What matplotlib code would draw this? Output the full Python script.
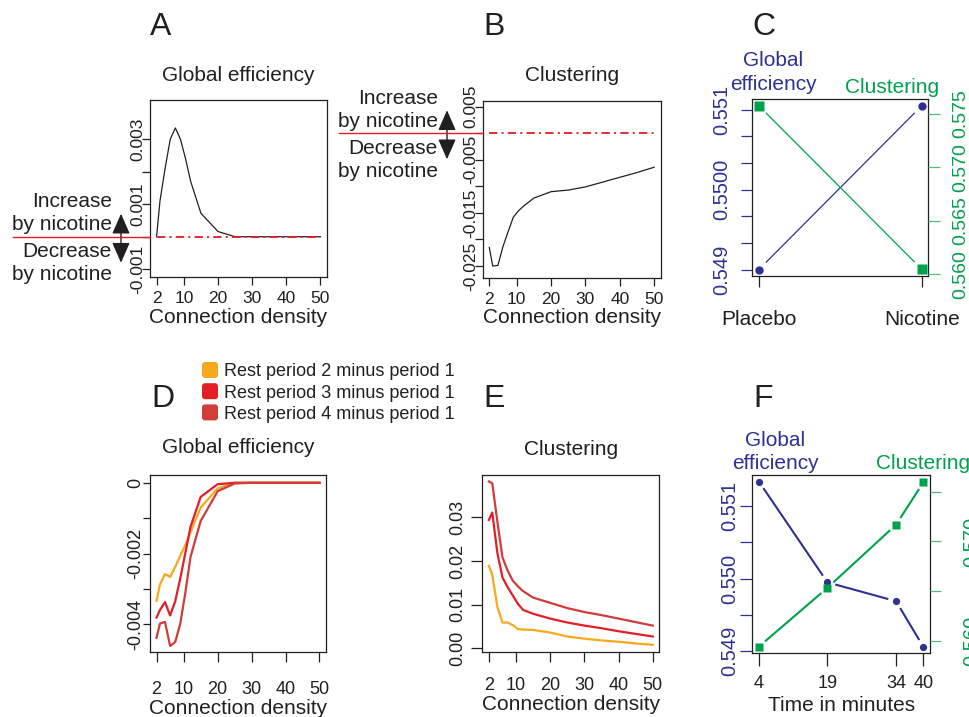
import numpy as np
import matplotlib
matplotlib.use("Agg")
import matplotlib.pyplot as plt
from matplotlib.transforms import IdentityTransform
from matplotlib.patches import FancyBboxPatch, ArrowStyle
from matplotlib.lines import Line2D

plt.rcParams['font.family'] = ['Liberation Sans', 'DejaVu Sans']
plt.rcParams['lines.scale_dashes'] = False

W, H = 970, 717
INK = '#231F20'
NAVY = '#2E3192'
GREEN = '#00A14B'
GREEN_TICK = '#55BB77'
RED = '#E31B23'
period_colors = ['#F8A81D', '#E41E26', '#D13B3A']

# connection density (%) used for the network thresholds
density = [2, 3, 4.5, 6, 7.5, 9, 10.5, 12, 15, 20, 25, 30, 35, 40, 45, 50]
density_ticks = [2, 10, 20, 30, 40, 50]

# A / B : nicotine minus placebo
glob_eff_diff = [0.0, 0.0011, 0.0021, 0.0030, 0.00335, 0.0030, 0.0024, 0.0017,
                 0.00072, 0.00016, 0.0, 0.0, 0.0, 0.0, 0.0, 0.0]
clust_diff = [-0.0215, -0.0250, -0.0249, -0.0213, -0.0185, -0.0158, -0.0146, -0.0137,
              -0.0122, -0.0110, -0.0107, -0.0101, -0.0092, -0.0083, -0.0074, -0.0064]

# C : condition means
conditions = ['Placebo', 'Nicotine']
cond_glob_eff = [0.5490, 0.55105]
cond_clust = [0.57578, 0.56047]

# D / E : rest period differences
periods = ['Rest period 2 minus period 1',
           'Rest period 3 minus period 1',
           'Rest period 4 minus period 1']
rest_glob_eff = [
    [-0.00334, -0.00288, -0.00258, -0.00266, -0.00238, -0.00206, -0.00176, -0.00140,
     -0.00070, -0.00016, 0.0, 0.0, 0.0, 0.0, 0.0, 0.0],
    [-0.00381, -0.00360, -0.00337, -0.00375, -0.00335, -0.00270, -0.00198, -0.00125,
     -0.00040, -0.00004, 0.0, 0.0, 0.0, 0.0, 0.0, 0.0],
    [-0.00438, -0.00398, -0.00393, -0.00461, -0.00450, -0.00398, -0.00310, -0.00210,
     -0.00108, -0.00024, -0.00002, 0.0, 0.0, 0.0, 0.0, 0.0],
]
rest_clust = [
    [0.0189, 0.0168, 0.0095, 0.0059, 0.0059, 0.0053, 0.0044, 0.0043,
     0.0042, 0.0036, 0.0027, 0.0022, 0.0018, 0.0015, 0.0011, 0.0008],
    [0.0294, 0.0311, 0.0218, 0.0162, 0.0140, 0.0121, 0.0102, 0.0088,
     0.0079, 0.0068, 0.0059, 0.0052, 0.0046, 0.0039, 0.0033, 0.0027],
    [0.0382, 0.0378, 0.0290, 0.0208, 0.0178, 0.0155, 0.0142, 0.0131,
     0.0116, 0.0104, 0.0092, 0.0083, 0.0076, 0.0068, 0.0060, 0.0052],
]

# F : time course
minutes = [4, 19, 34, 40]
time_glob_eff = [0.55134, 0.54995, 0.54969, 0.54906]
time_clust = [0.55943, 0.56534, 0.57168, 0.57595]

fig = plt.figure(figsize=(W / 100, H / 100), dpi=100)


def panel_axes(l, t, r, b):
    return fig.add_axes([l / W, 1 - b / H, (r - l) / W, (b - t) / H])


def px_text(x, y, s, **kw):
    # x, y in image pixels measured from the top left, y is the baseline
    kw.setdefault('va', 'baseline')
    fig.text(x / W, 1 - y / H, s, **kw)


def frame(ax):
    for s in ax.spines.values():
        s.set_color(INK)
        s.set_linewidth(0.9)


def yaxis_setup(ax, ticks, labels, size, length, pad, color=INK, tcolor=None):
    ax.set_yticks(ticks)
    ax.set_yticklabels(labels)
    ax.tick_params(axis='y', labelsize=size, length=length, pad=pad, width=0.9,
                   color=tcolor or color, labelcolor=color, labelrotation=90)
    for t in ax.get_yticklabels():
        t.set_va('center')


def xaxis_setup(ax, ticks, labels, size, length, pad):
    ax.set_xticks(ticks)
    ax.set_xticklabels(labels)
    ax.tick_params(axis='x', labelsize=size, length=length, pad=pad, width=0.9,
                   color=INK, labelcolor=INK)


def gapped_line(ax, xs, ys, color, lw, gap=10):
    # R type="b": segments stop short of the points
    pts = ax.transData.transform(np.column_stack([xs, ys]))
    inv = ax.transData.inverted()
    for p, q in zip(pts[:-1], pts[1:]):
        u = (q - p) / np.hypot(*(q - p))
        seg = inv.transform(np.array([p + u * gap, q - u * gap]))
        ax.plot(seg[:, 0], seg[:, 1], color=color, lw=lw, solid_capstyle='butt')


def nicotine_key(ax, line_x0, arrow_x, text_x):
    y0 = ax.transData.transform((0, 0))[1]
    left = ax.transAxes.transform((0, 0))[0]
    fig.add_artist(Line2D([line_x0, left], [y0, y0], color=RED, lw=1.0,
                          transform=IdentityTransform()))
    for s, dy in [('Increase', 29.5), ('by nicotine', 6.5),
                  ('Decrease', -20.5), ('by nicotine', -43.5)]:
        fig.text(text_x, y0 + dy, s, transform=IdentityTransform(),
                 ha='right', va='baseline', fontsize=15, color=INK)
    style = ArrowStyle('-|>', head_length=1.25, head_width=0.55)
    for dy in (23, -26):
        ax.annotate('', xy=(arrow_x, y0 + dy), xytext=(arrow_x, y0),
                    xycoords='figure pixels', textcoords='figure pixels',
                    arrowprops=dict(arrowstyle=style, color=INK, lw=1.0,
                                    shrinkA=0, shrinkB=0, mutation_scale=10))


# ---------------- A ----------------
axA = panel_axes(150, 100, 327, 277)
axA.plot(density, glob_eff_diff, color=INK, lw=0.9)
axA.plot([density[0], density[-1]], [0, 0], color=RED, lw=1.3, dashes=(6, 3, 1.5, 3))
axA.set_xlim(0.08, 51.92)
axA.set_ylim(-0.00124, 0.00421)
xaxis_setup(axA, density_ticks, [str(t) for t in density_ticks], 12.5, 5.8, 4.5)
yaxis_setup(axA, [-0.001, 0, 0.001, 0.002, 0.003],
            ['-0.001', '', '0.001', '', '0.003'], 12.5, 5.8, -2.5)
axA.set_title('Global efficiency', fontsize=15, pad=14, color=INK)
axA.set_xlabel('Connection density', fontsize=15, labelpad=1, color=INK)
frame(axA)

# ---------------- B ----------------
axB = panel_axes(482.7, 100.7, 660.7, 277.7)
axB.plot(density, clust_diff, color=INK, lw=0.9)
axB.plot([density[0], density[-1]], [0, 0], color=RED, lw=1.3, dashes=(6, 3, 1.5, 3))
axB.set_xlim(0.08, 51.92)
axB.set_ylim(-0.0272, 0.00613)
xaxis_setup(axB, density_ticks, [str(t) for t in density_ticks], 12.5, 5.8, 4.5)
yaxis_setup(axB, [0.005, 0, -0.005, -0.01, -0.015, -0.02, -0.025],
            ['0.005', '', '-0.005', '', '-0.015', '', '-0.025'], 12.5, 5.8, -2.5)
axB.set_title('Clustering', fontsize=15, pad=14, color=INK)
axB.set_xlabel('Connection density', fontsize=15, labelpad=1, color=INK)
frame(axB)

# ---------------- C ----------------
axC = panel_axes(752.3, 99.3, 928.3, 276)
axC2 = axC.twinx()
axC.set_xlim(0.96, 2.04)
axC.set_ylim(0.54892, 0.55113)
axC2.set_ylim(0.55984, 0.57638)
cx = [1, 2]
axC.plot(cx, cond_glob_eff, 'o', color=NAVY, ms=6, mec='none')
axC2.plot(cx, cond_clust, 's', color=GREEN, ms=6.5, mec='none')
gapped_line(axC, cx, cond_glob_eff, NAVY, 0.9, gap=10)
gapped_line(axC2, cx, cond_clust, GREEN, 0.9, gap=10)
xaxis_setup(axC, cx, conditions, 15, 7.7, 17)
c_left = [0.549 + k * 0.002 / 6 for k in range(7)]
yaxis_setup(axC, c_left, ['0.549', '', '', '0.5500', '', '', '0.551'], 14.5, 7.7, 7.5,
            color=NAVY)
yaxis_setup(axC2, [0.560, 0.565, 0.570, 0.575], ['0.560', '0.565', '0.570', '0.575'],
            14, 8.4, 8.5, color=GREEN, tcolor=GREEN_TICK)
frame(axC)
for s in axC2.spines.values():
    s.set_visible(False)
px_text(773, 65.5, 'Global', ha='center', fontsize=15, color=NAVY)
px_text(773, 90.5, 'efficiency', ha='center', fontsize=15, color=NAVY)
px_text(891.7, 93.3, 'Clustering', ha='center', fontsize=15, color=GREEN)

# ---------------- D ----------------
axD = panel_axes(150, 475, 326, 652.3)
for vals, c in zip(rest_glob_eff, period_colors):
    axD.plot(density, vals, color=c, lw=1.6)
axD.set_xlim(0.08, 51.92)
axD.set_ylim(-0.00479, 0.00022)
xaxis_setup(axD, density_ticks, [str(t) for t in density_ticks], 13, 7.4, 13)
yaxis_setup(axD, [0, -0.001, -0.002, -0.003, -0.004],
            ['0', '', '-0.002', '', '-0.004'], 13, 4.8, -0.5)
axD.set_title('Global efficiency', fontsize=15, pad=16, color=INK)
axD.set_xlabel('Connection density', fontsize=15, labelpad=1, color=INK)
frame(axD)

# legend for D / E
for i, (lab, c) in enumerate(zip(periods, period_colors)):
    cy = 370 + i * 21.2
    fig.add_artist(FancyBboxPatch((202, H - cy - 8), 16, 16,
                                  boxstyle='round,pad=0,rounding_size=3',
                                  facecolor=c, edgecolor='none',
                                  transform=IdentityTransform()))
    px_text(224.3, cy + 6.5, lab, fontsize=13, color=INK)

# ---------------- E ----------------
axE = panel_axes(482.3, 475, 659.3, 651.7)
for vals, c in zip(rest_clust, period_colors):
    axE.plot(density, vals, color=c, lw=1.6)
axE.set_xlim(0.08, 51.92)
axE.set_ylim(-0.00078, 0.03969)
xaxis_setup(axE, density_ticks, [str(t) for t in density_ticks], 13, 7.2, 11)
yaxis_setup(axE, [0, 0.01, 0.02, 0.03], ['0.00', '0.01', '0.02', '0.03'],
            13, 7.7, 3.5)
axE.set_title('Clustering', fontsize=15, pad=14.5, color=INK)
axE.set_xlabel('Connection density', fontsize=15, labelpad=1, color=INK)
frame(axE)

# ---------------- F ----------------
axF = panel_axes(752.3, 475, 930, 652.7)
axF2 = axF.twinx()
axF.set_xlim(2.56, 41.44)
axF.set_ylim(0.54898, 0.55143)
axF2.set_ylim(0.55882, 0.57668)
axF.plot(minutes, time_glob_eff, 'o', color=NAVY, ms=5.2, mec='none')
axF2.plot(minutes, time_clust, 's', color=GREEN, ms=6, mec='none')
gapped_line(axF, minutes, time_glob_eff, NAVY, 1.5, gap=8)
gapped_line(axF2, minutes, time_clust, GREEN, 1.5, gap=8)
xaxis_setup(axF, minutes, [str(m) for m in minutes], 13, 9.6, 6.5)
yaxis_setup(axF, [0.549, 0.5495, 0.550, 0.5505, 0.551],
            ['0.549', '', '0.550', '', '0.551'], 14.5, 8.9, 0.7, color=NAVY)
yaxis_setup(axF2, [0.560, 0.565, 0.570, 0.575], ['0.560', '', '0.570', ''],
            14.5, 8.0, 15, color=GREEN, tcolor=GREEN_TICK)
axF.set_xlabel('Time in minutes', fontsize=15, labelpad=3, color=INK)
frame(axF)
for s in axF2.spines.values():
    s.set_visible(False)
px_text(775, 446, 'Global', ha='center', fontsize=15, color=NAVY)
px_text(775, 469.3, 'efficiency', ha='center', fontsize=15, color=NAVY)
px_text(923, 469.3, 'Clustering', ha='center', fontsize=15, color=GREEN)

# increase / decrease keys for A and B
nicotine_key(axA, 13, 121, 112)
nicotine_key(axB, 339, 447, 438)

# panel letters
for letter, x, y in [('A', 150, 34.7), ('B', 483, 34.7), ('C', 752, 35),
                     ('D', 151, 406.7), ('E', 483, 406.7), ('F', 753, 406.7)]:
    px_text(x, y, letter, fontsize=23, color=INK)

fig.savefig('out.png', dpi=100)
